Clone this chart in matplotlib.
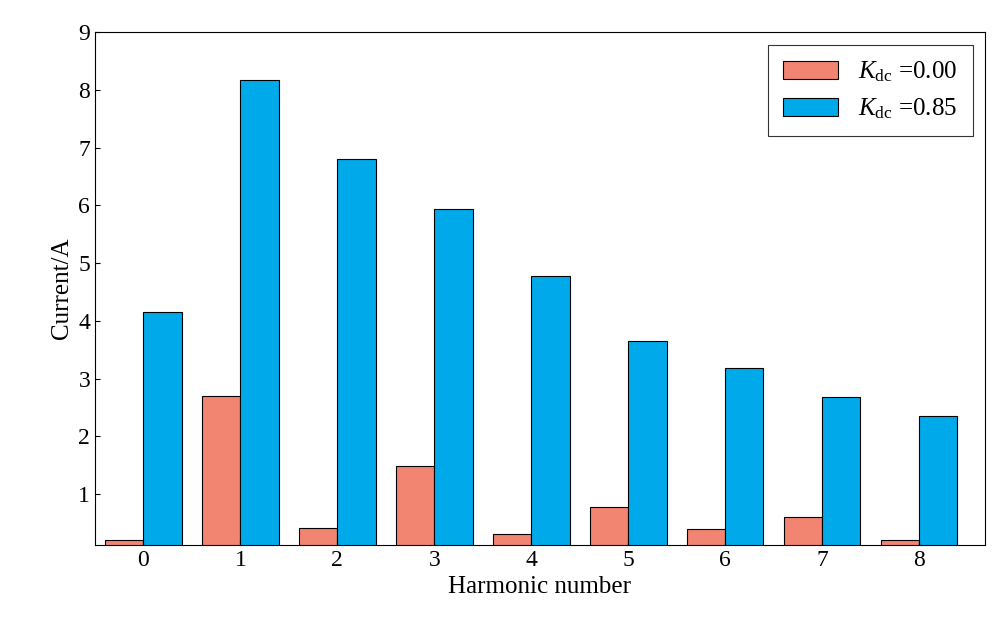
import matplotlib
matplotlib.use("Agg")
import matplotlib.pyplot as plt
import numpy as np

plt.rcParams["font.family"] = "Liberation Serif"
plt.rcParams["mathtext.fontset"] = "custom"
plt.rcParams["mathtext.rm"] = "Liberation Serif"
plt.rcParams["mathtext.it"] = "Liberation Serif:italic"

harmonics = [0, 1, 2, 3, 4, 5, 6, 7, 8]
k000 = [0.2, 2.7, 0.42, 1.48, 0.31, 0.78, 0.4, 0.61, 0.2]
k085 = [4.15, 8.17, 6.8, 5.93, 4.77, 3.65, 3.18, 2.69, 2.36]

fig = plt.figure(figsize=(10.07, 6.41), dpi=100)
ax = fig.add_axes([95/1007, 1-545/641, 890/1007, 513/641])
x = np.array(harmonics)
w = 0.395
ax.bar(x - w/2, k000, w, color="#F28472", edgecolor="black", linewidth=0.8, label=r"$K_{\rm dc}$ =0.00")
ax.bar(x + w/2, k085, w, color="#00A9EA", edgecolor="black", linewidth=0.8, label=r"$K_{\rm dc}$ =0.85")
ax.set_xlim(-0.5, 8.68)
ax.set_ylim(0.12, 9)
ax.set_xticks(harmonics)
ax.set_yticks(range(1, 10))
ax.tick_params(direction="in", labelsize=17)
ax.set_xlabel("Harmonic number", fontsize=18)
ax.set_ylabel("Current/A", fontsize=18)
leg = ax.legend(loc="upper right", fontsize=18, fancybox=False, edgecolor="black",
                handlelength=2.2, borderpad=0.6)
leg.get_frame().set_linewidth(0.8)
fig.savefig("out.png", dpi=100)
